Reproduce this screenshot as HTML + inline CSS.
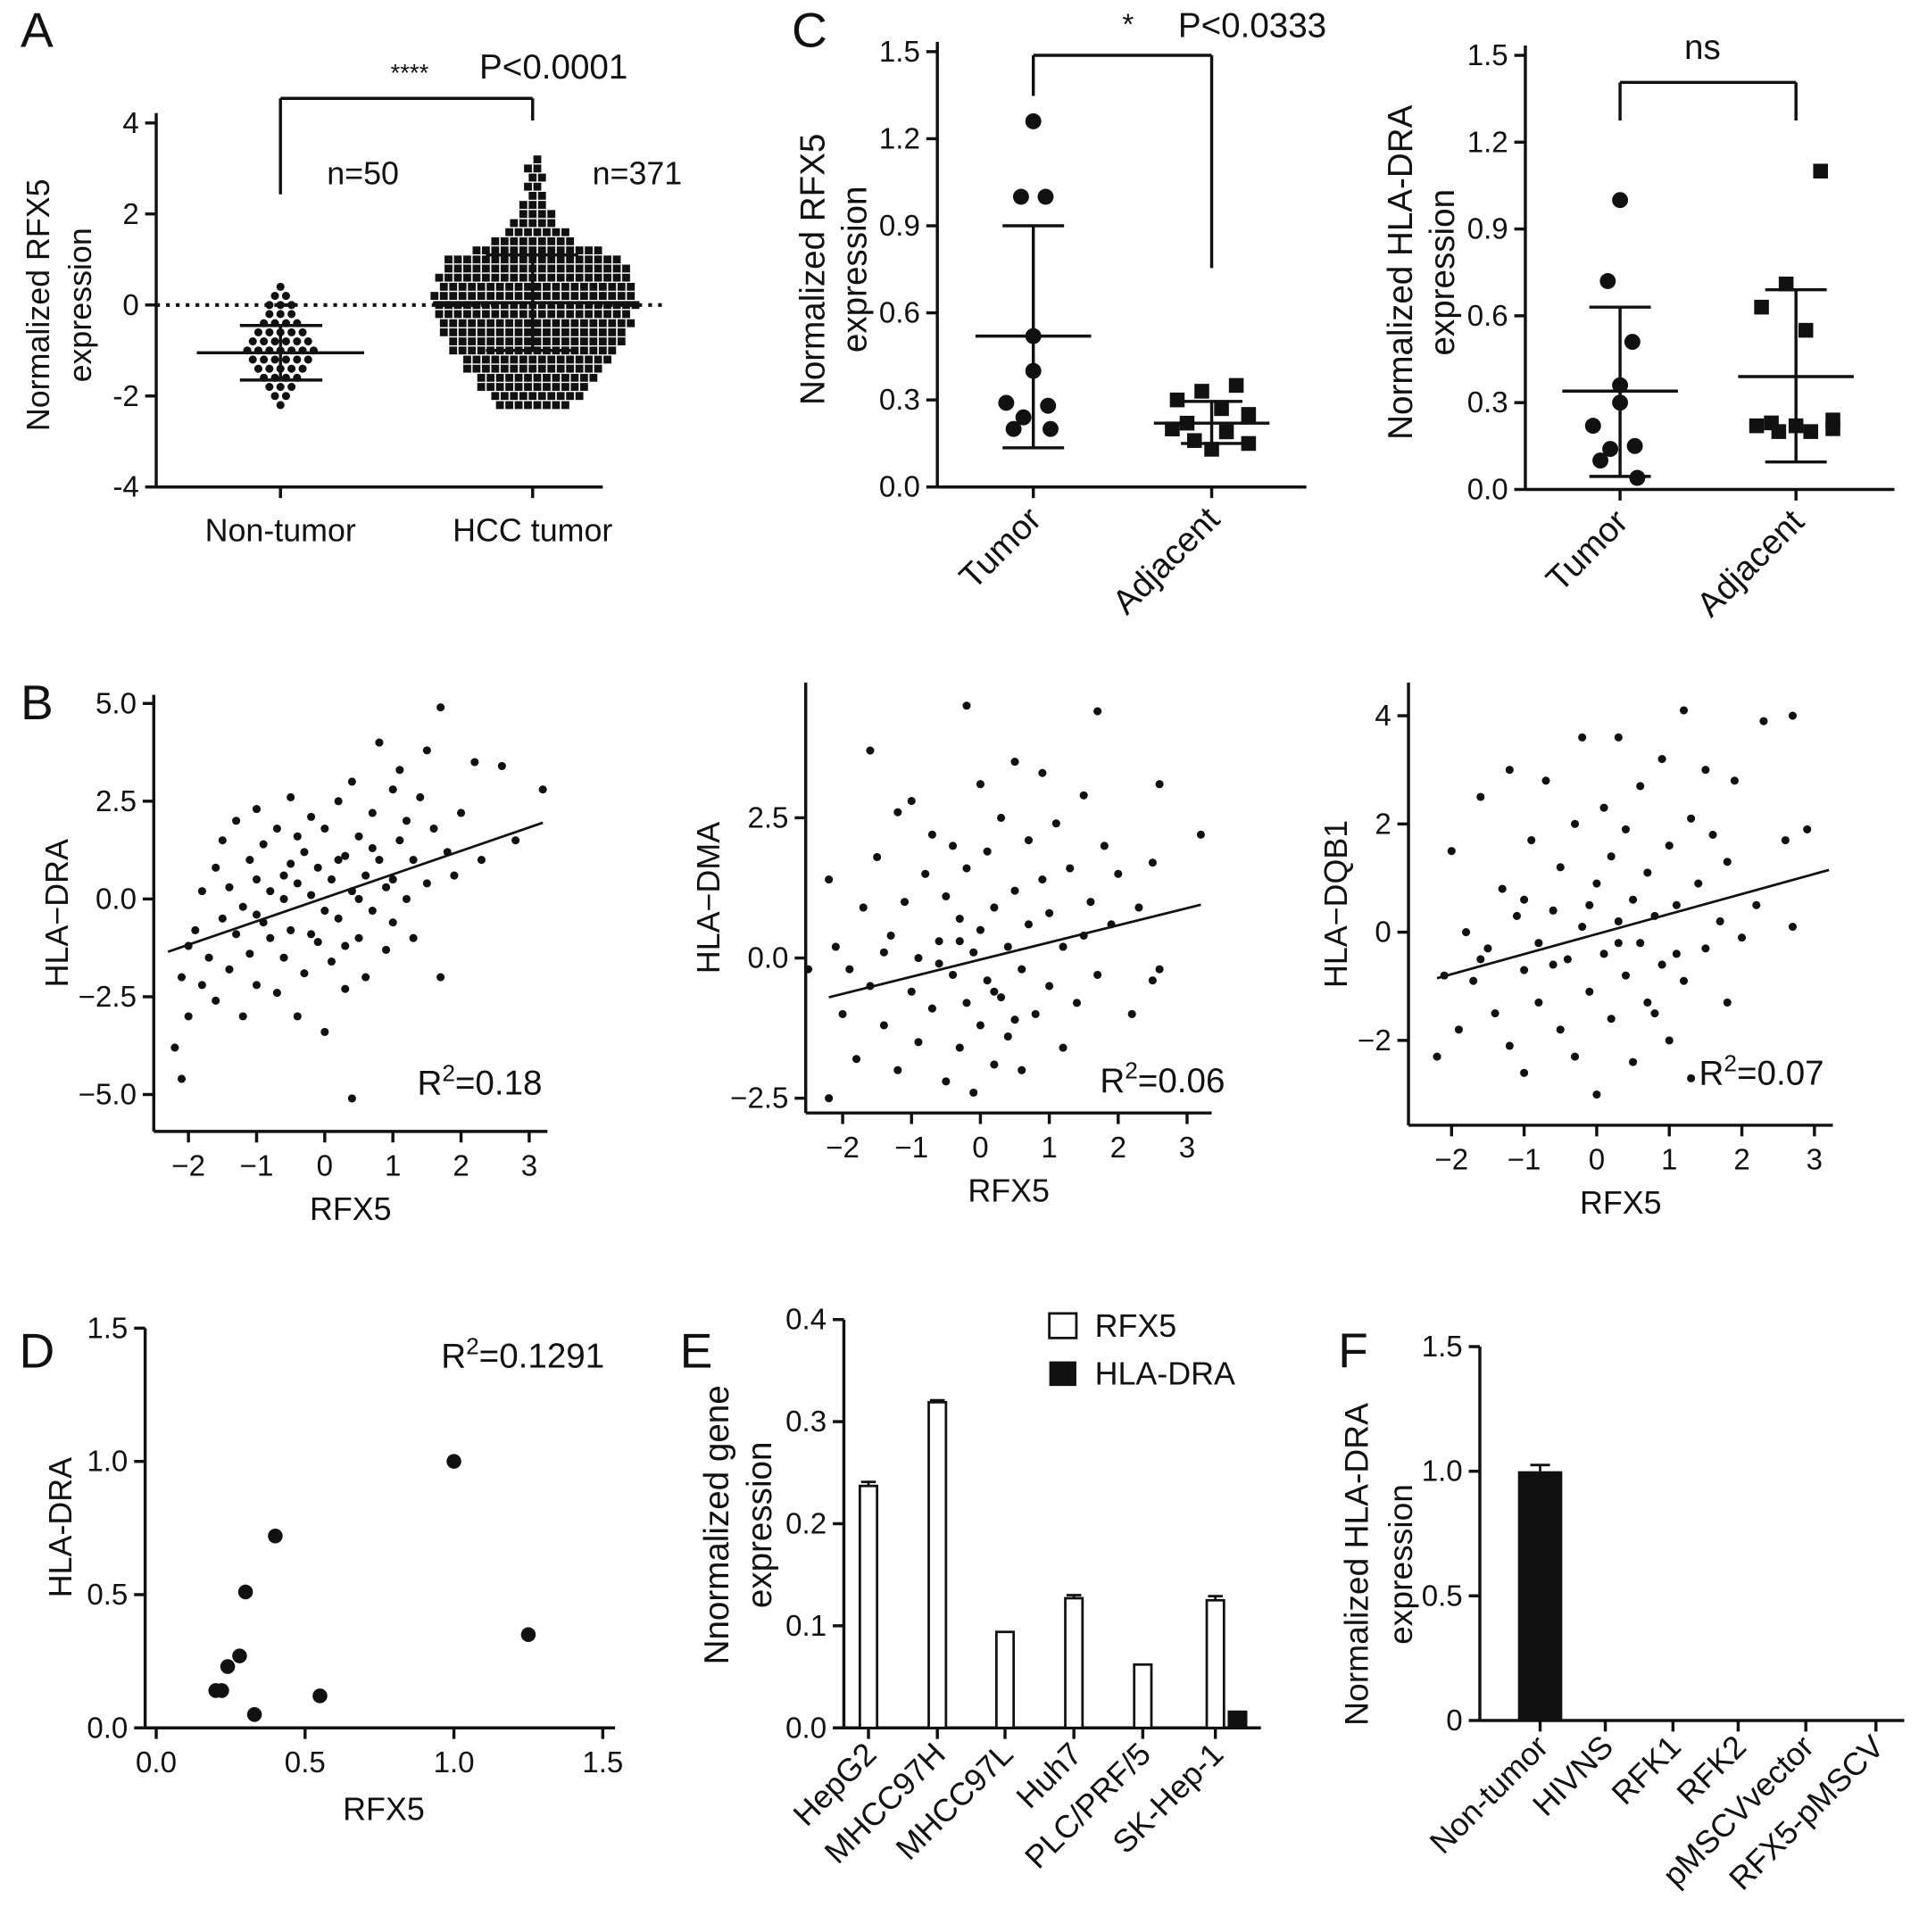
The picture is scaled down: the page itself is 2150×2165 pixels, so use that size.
<!DOCTYPE html>
<html><head><meta charset="utf-8"><style>
html,body{margin:0;padding:0;background:#fff}
svg{display:block;font-family:"Liberation Sans",Arial,sans-serif}
</style></head><body>
<svg id="fig" width="2150" height="2165" viewBox="0 0 1560 1571" preserveAspectRatio="none" xmlns="http://www.w3.org/2000/svg">
<rect width="1560" height="1571" fill="#fff"/>
</svg>
<script>
// ---------- DATA ----------
const aBinsNT = [0.4,0.2,0,-0.2,-0.4,-0.6,-0.8,-1.0,-1.2,-1.4,-1.6,-1.8,-2.0,-2.2];
const aCountsNT = [1,2,3,3,4,5,6,7,6,5,4,3,2,1];
const aBinsHCC = [-2.2,-2.0,-1.8,-1.6,-1.4,-1.2,-1.0,-0.8,-0.6,-0.4,-0.2,0,0.2,0.4,0.6,0.8,1.0,1.2,1.4,1.6,1.8,2.0,2.2,2.4,2.6,2.8,3.0,3.2];
const aCountsHCC = [8,10,12,13,15,16,18,19,20,21,21,22,22,21,21,20,19,14,9,7,5,4,3,2,2,2,2,1];
const aMean = [-1.05, 0.05];
const aSDhi = [-0.45, 1.1];
const aSDlo = [-1.65, -1.0];

const c1Tumor = [1.26,1.0,1.0,0.52,0.4,0.29,0.28,0.24,0.2,0.2];
const c1Adj = [0.35,0.33,0.3,0.27,0.25,0.22,0.2,0.19,0.16,0.15,0.13];
const c1Mean = [0.52,0.22], c1Hi=[0.9,0.295], c1Lo=[0.135,0.15];
const c2Tumor = [1.0,0.72,0.51,0.36,0.3,0.22,0.15,0.14,0.1,0.04];
const c2Adj = [1.1,0.71,0.63,0.55,0.24,0.23,0.22,0.2,0.2,0.21,0.22];
const c2Mean = [0.34,0.39], c2Hi=[0.63,0.69], c2Lo=[0.045,0.095];

const b1 = [[-2.2,-3.8],[-2.1,-4.6],[-2.1,-2.0],[-2.0,-1.2],[-2.0,-3.0],[-1.9,-0.8],[-1.8,-2.2],[-1.8,0.2],[-1.7,-1.5],[-1.6,0.8],[-1.6,-2.6],[-1.5,-0.5],[-1.5,1.5],[-1.4,-1.8],[-1.4,0.3],[-1.3,-0.9],[-1.3,2.0],[-1.2,-0.2],[-1.2,-3.0],[-1.1,1.0],[-1.1,-1.4],[-1.0,0.5],[-1.0,-2.2],[-1.0,2.3],[-0.9,-0.6],[-0.9,1.4],[-0.8,-1.0],[-0.8,0.2],[-0.7,-2.4],[-0.7,1.8],[-0.6,0.0],[-0.6,-1.5],[-0.5,0.9],[-0.5,2.6],[-0.5,-0.8],[-0.4,-3.0],[-0.4,0.4],[-0.3,1.2],[-0.3,-1.9],[-0.2,0.1],[-0.2,2.1],[-0.1,-1.1],[-0.1,0.8],[0.0,-0.3],[0.0,1.8],[0.0,-3.4],[0.1,0.5],[0.1,-1.6],[0.2,2.5],[0.2,-0.5],[0.3,1.1],[0.3,-2.3],[0.4,0.2],[0.4,-5.1],[0.4,3.0],[0.5,-1.0],[0.5,1.6],[0.6,0.6],[0.6,-2.0],[0.7,2.2],[0.7,-0.3],[0.8,4.0],[0.8,1.0],[0.9,-1.3],[0.9,0.3],[1.0,2.8],[1.0,-0.6],[1.1,1.5],[1.1,3.3],[1.2,0.0],[1.2,2.0],[1.3,-1.0],[1.3,1.0],[1.4,2.6],[1.5,0.4],[1.5,3.8],[1.6,1.8],[1.7,-2.0],[1.7,4.9],[1.8,1.2],[1.9,0.6],[2.0,2.2],[2.2,3.5],[2.3,1.0],[2.6,3.4],[2.8,1.5],[3.2,2.8],[0.5,0.0],[-0.2,-0.9],[0.2,1.0],[-0.6,0.6],[1.0,0.5],[0.7,1.3],[-1.0,-0.4],[0.3,-1.2],[-0.4,1.6]];
const b2 = [[-2.2,-2.5],[-2.2,1.4],[-2.1,0.2],[-2.0,-1.0],[-1.9,-0.2],[-1.8,-1.8],[-1.7,0.9],[-1.6,3.7],[-1.6,-0.5],[-1.5,1.8],[-1.4,-1.2],[-1.3,0.4],[-1.2,2.6],[-1.2,-2.0],[-1.1,1.0],[-1.0,-0.6],[-1.0,2.8],[-0.9,0.0],[-0.9,-1.5],[-0.8,1.5],[-0.7,-0.9],[-0.7,2.2],[-0.6,0.3],[-0.5,-2.2],[-0.5,1.1],[-0.4,-0.3],[-0.4,2.0],[-0.3,-1.6],[-0.3,0.7],[-0.2,-0.8],[-0.2,1.6],[-0.1,0.1],[-0.1,-2.4],[0.0,3.1],[0.0,-1.2],[0.0,0.5],[0.1,-0.4],[0.1,1.9],[0.2,-1.9],[0.2,0.9],[0.3,-0.7],[0.3,2.5],[0.4,0.2],[0.4,-1.4],[0.5,3.5],[0.5,1.2],[0.6,-0.2],[0.6,-2.0],[0.7,2.1],[0.7,0.6],[0.8,-1.0],[0.9,1.4],[0.9,3.3],[1.0,-0.5],[1.0,0.8],[1.1,2.4],[1.2,-1.6],[1.2,0.2],[1.3,1.6],[1.4,-0.8],[1.5,2.9],[1.5,0.4],[1.6,1.0],[1.7,4.4],[1.7,-0.3],[1.8,2.0],[1.9,0.6],[2.0,1.5],[2.2,-1.0],[2.3,0.9],[2.5,1.7],[2.6,-0.2],[2.6,3.1],[3.2,2.2],[-2.5,-0.2],[-0.6,-0.1],[0.2,-0.6],[-0.3,0.3],[0.5,-1.1],[-1.4,0.1],[2.5,-0.4],[-0.2,4.5]];
const b3 = [[-2.2,-2.3],[-2.1,-0.8],[-2.0,1.5],[-1.9,-1.8],[-1.8,0.0],[-1.7,-0.9],[-1.6,2.5],[-1.5,-0.3],[-1.4,-1.5],[-1.3,0.8],[-1.2,3.0],[-1.2,-2.1],[-1.1,0.3],[-1.0,-0.7],[-1.0,-2.6],[-0.9,1.7],[-0.8,-0.2],[-0.8,-1.3],[-0.7,2.8],[-0.6,0.4],[-0.5,-1.8],[-0.5,1.2],[-0.4,-0.5],[-0.3,2.0],[-0.3,-2.3],[-0.2,0.1],[-0.2,3.6],[-0.1,-1.1],[0.0,0.9],[0.0,-3.0],[0.1,-0.4],[0.1,2.3],[0.2,1.4],[0.2,-1.6],[0.3,0.2],[0.3,3.6],[0.4,-0.8],[0.4,1.9],[0.5,-2.4],[0.5,0.6],[0.6,-0.2],[0.6,2.7],[0.7,1.1],[0.7,-1.3],[0.8,0.3],[0.9,3.2],[0.9,-0.6],[1.0,1.6],[1.0,-2.0],[1.1,0.5],[1.2,4.1],[1.2,-0.9],[1.3,2.1],[1.3,-2.7],[1.4,0.9],[1.5,-0.3],[1.5,3.0],[1.6,1.8],[1.7,0.2],[1.8,1.3],[1.9,2.8],[2.0,-0.1],[2.2,0.5],[2.3,3.9],[2.6,1.7],[2.7,4.0],[2.7,0.1],[2.9,1.9],[-0.6,-0.6],[0.3,-0.2],[-1.0,0.6],[0.8,-1.5],[-0.1,0.5],[1.1,-0.4],[-1.6,-0.5],[1.8,-1.3]];
const b1Fit=[[-2.3,-1.35],[3.2,1.95]], b2Fit=[[-2.2,-0.7],[3.2,0.95]], b3Fit=[[-2.2,-0.85],[3.2,1.15]];

const dX = [1.0,1.25,0.4,0.3,0.28,0.24,0.2,0.22,0.33,0.55];
const dY = [1.0,0.35,0.72,0.51,0.27,0.23,0.14,0.14,0.05,0.12];

const eCats = ["HepG2","MHCC97H","MHCC97L","Huh7","PLC/PRF/5","SK-Hep-1"];
const eRFX5 = [0.237,0.319,0.094,0.127,0.062,0.125];
const eRFX5err = [0.004,0.002,0,0.003,0,0.004];
const eHLA = [0,0,0,0,0,0.017];

const fCats = ["Non-tumor","HIVNS","RFK1","RFK2","pMSCVvector","RFX5-pMSCV"];
const fVals = [1.0,0,0,0,0,0];
const fErr = [0.025,0,0,0,0,0];

// ---------- helpers ----------
const NS="http://www.w3.org/2000/svg";
const svg=document.getElementById('fig');
function el(tag,attrs,parent){const e=document.createElementNS(NS,tag);for(const k in attrs)e.setAttribute(k,attrs[k]);(parent||svg).appendChild(e);return e;}
function txt(s,x,y,size,anchor,parent,rot){const t=el('text',{x:x,y:y,'font-size':size,'text-anchor':anchor||'middle',fill:'#111'},parent);if(rot!==undefined)t.setAttribute('transform','rotate('+rot+' '+x+' '+y+')');t.textContent=s;return t;}
function line(x1,y1,x2,y2,w,parent,dash){const l=el('line',{x1:x1,y1:y1,x2:x2,y2:y2,stroke:'#111','stroke-width':w||2.5},parent);if(dash)l.setAttribute('stroke-dasharray',dash);return l;}
function lin(d0,d1,p0,p1){return v=>p0+(v-d0)*(p1-p0)/(d1-d0);}
function grp(name){const g=el('g',{},svg);return g;}
function yAxis(g,x,yTop,yBot,ticks,labels,sy,fs){line(x,yTop,x,yBot,2.5,g);ticks.forEach((t,i)=>{const y=sy(t);line(x-9,y,x,y,2.5,g);txt(labels[i],x-14,y+8,fs||24,'end',g);});}
function xAxis(g,y,xl,xr,ticks,labels,sx,fs){line(xl,y,xr,y,2.5,g);ticks.forEach((t,i)=>{const x=sx(t);line(x,y,x,y+9,2.5,g);if(labels)txt(labels[i],x,y+36,fs||24,'middle',g);});}

// panel letters
[["A",30,38],["C",658,38],["B",30,585],["D",30,1112],["E",566,1112],["F",1100,1112]].forEach(p=>{const t=txt(p[0],p[1],p[2],40,'middle');});

// ---------- Panel A ----------
(function(){
const g=grp('panel-a');
const sy=lin(0,1,248,211);
const cx=[228,433];
yAxis(g,127,92,396,[4,2,0,-2,-4],["4","2","0","-2","-4"],sy);
line(127,396,490,396,2.5,g);
cx.forEach(x=>line(x,396,x,405,2.5,g));
txt("Non-tumor",cx[0],440,26,'middle',g);
txt("HCC  tumor",cx[1],440,26,'middle',g);
txt("Normalized RFX5",40,248,26,'middle',g,-90);
txt("expression",74,248,26,'middle',g,-90);
line(127,sy(0),540,sy(0),3,g,'3,5');
aBinsNT.forEach((b,i)=>{const n=aCountsNT[i];for(let k=0;k<n;k++){const c=el('circle',{cx:cx[0]+(k-(n-1)/2)*9,cy:sy(b),r:3.3,fill:'#111'},g);}});
aBinsHCC.forEach((b,i)=>{const n=aCountsHCC[i];const sh=(i%2)?3.8:0;for(let k=0;k<n;k++){const r=el('rect',{x:cx[1]+(k-(n-1)/2)*7.6-3.2+sh,y:sy(b)-3.2,width:6.4,height:6.4,fill:'#111'},g);}});
[[160,296,195,262],[352,515,395,470]].forEach((w,i)=>{line(w[0],sy(aMean[i]),w[1],sy(aMean[i]),2.5,g);line(cx[i],sy(aSDhi[i]),cx[i],sy(aSDlo[i]),2.5,g);line(w[2],sy(aSDhi[i]),w[3],sy(aSDhi[i]),2.5,g);line(w[2],sy(aSDlo[i]),w[3],sy(aSDlo[i]),2.5,g);});
line(228,158,228,80,2.5,g);line(228,80,433,80,2.5,g);line(433,80,433,98,2.5,g);
txt("****",333,66,20,'middle',g);txt("P<0.0001",450,64,28,'middle',g);
txt("n=50",295,150,26,'middle',g);txt("n=371",518,150,26,'middle',g);
})();

// ---------- Panel C ----------
function panelC(name,x0,y15,y0,cx,tum,adj,mean,hi,lo,ylab,brY,brL,brR){
const g=grp(name);
const sy=lin(0,1.5,y0,y15);
yAxis(g,x0,y15-8,y0,[0,0.3,0.6,0.9,1.2,1.5],["0.0","0.3","0.6","0.9","1.2","1.5"],sy);
line(x0,y0,x0+300,y0,2.5,g);
cx.forEach(x=>line(x,y0,x,y0+9,2.5,g));
txt("Tumor",cx[0]+8,y0+28,28,'end',g,-45);
txt("Adjacent",cx[1]+8,y0+28,28,'end',g,-45);
txt(ylab[0],x0-92,(y0+y15)/2,28,'middle',g,-90);
txt("expression",x0-58,(y0+y15)/2,28,'middle',g,-90);
tum.forEach((v,i)=>{const off=[0,-10,10,0,0,-22,12,-8,-16,14][i];const c=el('circle',{cx:cx[0]+off,cy:sy(v),r:6.5,fill:'#111'},g);});
adj.forEach((v,i)=>{const off=[20,-8,-28,8,30,-20,-32,12,-14,30,0][i];const r=el('rect',{x:cx[1]+off-6,y:sy(v)-6,width:12,height:12,fill:'#111'},g);});
cx.forEach((x,i)=>{line(x-47,sy(mean[i]),x+47,sy(mean[i]),2.5,g);line(x,sy(hi[i]),x,sy(lo[i]),2.5,g);line(x-25,sy(hi[i]),x+25,sy(hi[i]),2.5,g);line(x-25,sy(lo[i]),x+25,sy(lo[i]),2.5,g);});
line(cx[0],brL,cx[0],brY,2.5,g);line(cx[0],brY,cx[1],brY,2.5,g);line(cx[1],brY,cx[1],brR,2.5,g);
return g;}
const gc1=panelC('panel-c-rfx5',762,42,396,[840,985],c1Tumor,c1Adj,c1Mean,c1Hi,c1Lo,["Normalized RFX5"],45,78,218);
txt("*",917,28,24,'middle',gc1);txt("P<0.0333",1018,30,28,'middle',gc1);
const gc2=panelC('panel-c-hla-dra',1240,45,398,[1317,1460],c2Tumor,c2Adj,c2Mean,c2Hi,c2Lo,["Normalized HLA-DRA"],67,98,98);
txt("ns",1384,48,28,'middle',gc2);

// ---------- Panel B ----------
function scatter(name,pts,fit,ax,ylab,r2,r2x,yo){
const g=grp(name);
const sx=lin(0,1,ax.x0,ax.x0+ax.ux), sy=lin(0,1,ax.y0,ax.y0-ax.uy);
line(ax.xa,ax.yt,ax.xa,ax.yb,2.5,g);
ax.yticks.forEach((t,i)=>{line(ax.xa-9,sy(t),ax.xa,sy(t),2.5,g);txt(ax.ylabels[i],ax.xa-14,sy(t)+8,24,'end',g);});
line(ax.xa,ax.yb,ax.xr,ax.yb,2.5,g);
[-2,-1,0,1,2,3].forEach(t=>{line(sx(t),ax.yb,sx(t),ax.yb+9,2.5,g);txt(t<0?'\u2212'+(-t):String(t),sx(t),ax.yb+36,24,'middle',g);});
txt("RFX5",(ax.xa+ax.xr)/2,ax.yb+72,26,'middle',g);
txt(ylab,ax.xa-(yo||70),(ax.yt+ax.yb)/2,26,'middle',g,-90);
pts.forEach(p=>{const c=el('circle',{cx:sx(p[0]),cy:sy(p[1]),r:3.3,fill:'#111'},g);});
const l=line(sx(fit[0][0]),sy(fit[0][1]),sx(fit[1][0]),sy(fit[1][1]),2,g);
const t=el('text',{x:r2x[0],y:r2x[1],'font-size':28,'text-anchor':'middle',fill:'#111'},g);
t.innerHTML='R<tspan dy="-11" font-size="19">2</tspan><tspan dy="11">='+r2+'</tspan>';
}
scatter('panel-b-hla-dra',b1,b1Fit,{x0:264,ux:55.4,y0:731,uy:31.8,xa:125,yt:565,yb:920,xr:445,yticks:[5,2.5,0,-2.5,-5],ylabels:["5.0","2.5","0.0","\u22122.5","\u22125.0"]},"HLA\u2212DRA","0.18",[390,890]);
scatter('panel-b-hla-dma',b2,b2Fit,{x0:797,ux:56,y0:779,uy:45.6,xa:655,yt:555,yb:905,xr:985,yticks:[2.5,0,-2.5],ylabels:["2.5","0.0","\u22122.5"]},"HLA\u2212DMA","0.06",[945,888]);
scatter('panel-b-hla-dqb1',b3,b3Fit,{x0:1298,ux:59,y0:758,uy:44,xa:1145,yt:555,yb:915,xr:1490,yticks:[4,2,0,-2],ylabels:["4","2","0","\u22122"]},"HLA\u2212DQB1","0.07",[1432,882],50);

// ---------- Panel D ----------
(function(){
const g=grp('panel-d');
const sx=lin(0,1.5,127,490), sy=lin(0,1.5,1405,1080);
yAxis(g,118,1080,1405,[0,0.5,1,1.5],["0.0","0.5","1.0","1.5"],sy);
xAxis(g,1405,118,500,[0,0.5,1,1.5],["0.0","0.5","1.0","1.5"],sx);
txt("RFX5",312,1480,26,'middle',g);
txt("HLA-DRA",58,1242,26,'middle',g,-90);
dX.forEach((x,i)=>{const c=el('circle',{cx:sx(x),cy:sy(dY[i]),r:6,fill:'#111'},g);});
const t=el('text',{x:425,y:1112,'font-size':28,'text-anchor':'middle',fill:'#111'},g);
t.innerHTML='R<tspan dy="-11" font-size="19">2</tspan><tspan dy="11">=0.1291</tspan>';
})();

// ---------- Panel E ----------
(function(){
const g=grp('panel-e');
const sy=lin(0,0.4,1405,1073);
const cx=[706,762,817,873,929,988];
yAxis(g,686,1073,1405,[0,0.1,0.2,0.3,0.4],["0.0","0.1","0.2","0.3","0.4"],sy);
line(686,1405,1025,1405,2.5,g);
cx.forEach((x,i)=>{line(x,1405,x,1414,2.5,g);txt(eCats[i],x+8,1428,26,'end',g,-45);
const r=el('rect',{x:x-7,y:sy(eRFX5[i]),width:14,height:1405-sy(eRFX5[i]),fill:'#fff',stroke:'#111','stroke-width':2},g);
if(eRFX5err[i]>0){line(x,sy(eRFX5[i]+eRFX5err[i]),x,sy(eRFX5[i]),2,g);line(x-6,sy(eRFX5[i]+eRFX5err[i]),x+6,sy(eRFX5[i]+eRFX5err[i]),2,g);}
if(eHLA[i]>0){const b=el('rect',{x:x+10,y:sy(eHLA[i]),width:16,height:1405-sy(eHLA[i]),fill:'#111'},g);}
});
txt("Nnormalized gene",592,1240,28,'middle',g,-90);
txt("expression",627,1240,28,'middle',g,-90);
const lg=el('g',{},g);
el('rect',{x:853,y:1068,width:22,height:20,fill:'#fff',stroke:'#111','stroke-width':2},lg);
txt("RFX5",890,1087,26,'start',lg);
el('rect',{x:853,y:1107,width:22,height:20,fill:'#111'},lg);
txt("HLA-DRA",890,1126,26,'start',lg);
})();

// ---------- Panel F ----------
(function(){
const g=grp('panel-f');
const sy=lin(0,1.5,1399,1095);
const cx=[1252,1305,1360,1413,1468,1525];
yAxis(g,1203,1095,1399,[0,0.5,1.0,1.5],["0","0.5","1.0","1.5"],sy);
line(1203,1399,1548,1399,2.5,g);
cx.forEach((x,i)=>{line(x,1399,x,1408,2.5,g);txt(fCats[i],x+8,1422,26,'end',g,-45);
if(fVals[i]>0){const r=el('rect',{x:x-18,y:sy(fVals[i]),width:36,height:1399-sy(fVals[i]),fill:'#111'},g);
line(x,sy(fVals[i]+fErr[i]),x,sy(fVals[i]),2,g);line(x-8,sy(fVals[i]+fErr[i]),x+8,sy(fVals[i]+fErr[i]),2,g);}});
txt("Normalized HLA-DRA",1112,1272,27,'middle',g,-90);
txt("expression",1148,1272,27,'middle',g,-90);
})();
</script>
</body></html>
